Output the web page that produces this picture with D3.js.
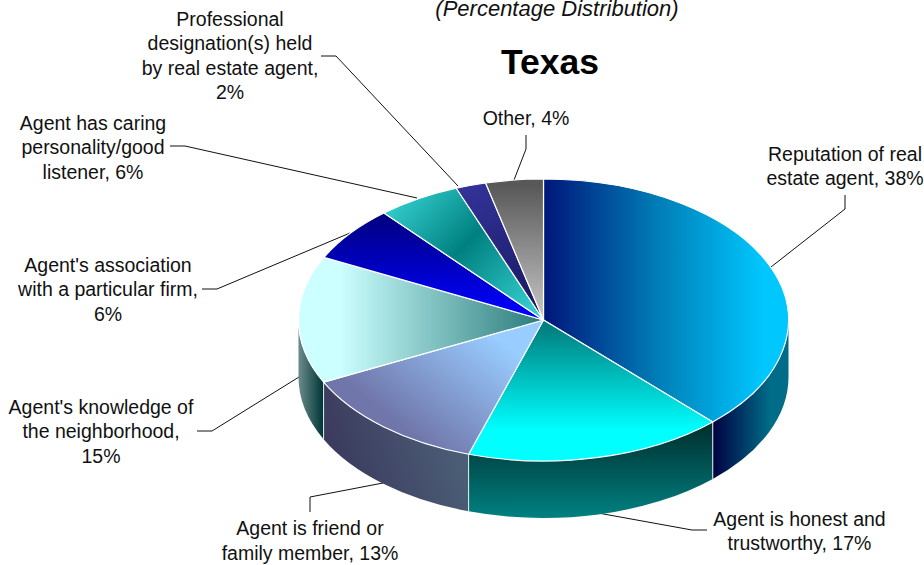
<!DOCTYPE html>
<html>
<head>
<meta charset="utf-8">
<script src="https://d3js.org/d3.v7.min.js"></script>
<style>
  html, body { margin: 0; padding: 0; background: #fff; }
  svg { display: block; }
  text { font-family: "Liberation Sans", Arial, sans-serif; fill: #111; }
</style>
</head>
<body>
<script>
// slices clockwise from 12 o'clock
var categories = ["Reputation of real estate agent", "Agent is honest and trustworthy", "Agent is friend or family member", "Agent's knowledge of the neighborhood", "Agent's association with a particular firm", "Agent has caring personality/good listener", "Professional designation(s) held by real estate agent", "Other"];
var values = [37.9, 17.1, 12.8, 14.6, 6.4, 5.5, 2.0, 3.8];
var title = "Texas";
var subtitle = "(Percentage Distribution)";

var width = 924, height = 565;
var cx = 543.5, cy = 320, rx = 245, ry = 141, depth = 57;

var svg = d3.select("body").append("svg")
  .attr("width", width)
  .attr("height", height);

var defs = svg.append("defs");

// gradients are in page space, one for each top and each visible wall
var topFills = [
  {x1: 548, y1: 0, x2: 765, y2: 0, stops: [[0, "#001a7c"], [0.5, "#007cb6"], [1, "#00c8ff"]]},
  {x1: 0, y1: 328, x2: 0, y2: 430, stops: [[0, "#008080"], [1, "#00ffff"]]},
  {x1: 505, y1: 345, x2: 425, y2: 445, stops: [[0, "#99ccff"], [1, "#7076aa"]]},
  {x1: 340, y1: 0, x2: 543, y2: 0, stops: [[0, "#ccffff"], [1, "#2a7a7a"]]},
  {x1: 0, y1: 215, x2: 0, y2: 315, stops: [[0, "#000080"], [1, "#0000ff"]]},
  {x1: 400, y1: 195, x2: 525, y2: 315, stops: [[0, "#33cccc"], [0.47, "#008080"], [1, "#33cccc"]]},
  {x1: 465, y1: 185, x2: 530, y2: 305, stops: [[0, "#333399"], [1, "#1a1a66"]]},
  {x1: 0, y1: 185, x2: 0, y2: 320, stops: [[0, "#585858"], [1, "#c8c8c8"]]}
];
var wallFills = [
  {x1: 712, y1: 0, x2: 770, y2: 0, stops: [[0, "#000040"], [1, "#006c88"]]},
  {x1: 0, y1: 425, x2: 0, y2: 517, stops: [[0, "#002f2f"], [1, "#008080"]]},
  {x1: 345, y1: 490, x2: 468, y2: 450, stops: [[0, "#3b3b5e"], [1, "#4d6078"]]},
  {x1: 299, y1: 0, x2: 323, y2: 0, stops: [[0, "#6a8a8a"], [1, "#003636"]]}
];

function addGradient(id, g) {
  var lg = defs.append("linearGradient")
    .attr("id", id)
    .attr("gradientUnits", "userSpaceOnUse")
    .attr("x1", g.x1).attr("y1", g.y1)
    .attr("x2", g.x2).attr("y2", g.y2);
  g.stops.forEach(function (s) {
    lg.append("stop").attr("offset", s[0]).attr("stop-color", s[1]);
  });
}
topFills.forEach(function (g, i) { addGradient("top" + i, g); });
wallFills.forEach(function (g, i) { addGradient("wall" + i, g); });

var pie = d3.pie().sort(null).value(function (d) { return d; });
var arcs = pie(values);

// angle a is clockwise from the top, dy moves the point down to the lower rim
function px(a) { return cx + rx * Math.sin(a); }
function py(a, dy) { return cy - ry * Math.cos(a) + (dy || 0); }

function topPath(d) {
  var large = d.endAngle - d.startAngle > Math.PI ? 1 : 0;
  return "M" + cx + "," + cy +
    "L" + px(d.startAngle) + "," + py(d.startAngle) +
    "A" + rx + "," + ry + " 0 " + large + " 1 " + px(d.endAngle) + "," + py(d.endAngle) + "Z";
}

function wallPath(a0, a1) {
  return "M" + px(a0) + "," + py(a0) +
    "A" + rx + "," + ry + " 0 0 1 " + px(a1) + "," + py(a1) +
    "L" + px(a1) + "," + py(a1, depth) +
    "A" + rx + "," + ry + " 0 0 0 " + px(a0) + "," + py(a0, depth) + "Z";
}

// leaders go under the pie so that their ends tuck in at the rim
var leaders = [
  [[771, 267], [845, 209], [845, 195]],
  [[598, 513], [692, 530], [707, 530]],
  [[383, 483], [310, 497], [310, 512]],
  [[299, 377], [212, 431], [197, 431]],
  [[350, 233], [217, 289], [202, 289]],
  [[417, 198], [185, 146], [170, 146]],
  [[458, 186], [336, 56], [321, 56]],
  [[514, 180], [526, 149], [526, 135]]
];
var line = d3.line();
svg.append("g").selectAll("path")
  .data(leaders)
  .join("path")
  .attr("d", line)
  .attr("fill", "none")
  .attr("stroke", "#111")
  .attr("stroke-width", 1);

// front walls, only the part of a slice between 90 and 270 degrees shows
var walls = svg.append("g");
var wallIndex = 0;
arcs.forEach(function (d) {
  var a0 = Math.max(d.startAngle, Math.PI / 2);
  var a1 = Math.min(d.endAngle, Math.PI * 1.5);
  if (a1 <= a0) return;
  walls.append("path")
    .attr("d", wallPath(a0, a1))
    .attr("fill", "url(#wall" + wallIndex + ")");
  wallIndex++;
  // white seam down the wall at the start of the slice, none on the outer silhouette
  if (d.startAngle > Math.PI / 2) {
    walls.append("line")
      .attr("x1", px(d.startAngle)).attr("y1", py(d.startAngle))
      .attr("x2", px(d.startAngle)).attr("y2", py(d.startAngle, depth))
      .attr("stroke", "#e8eeee")
      .attr("stroke-width", 1);
  }
});

svg.append("g").selectAll("path")
  .data(arcs)
  .join("path")
  .attr("d", topPath)
  .attr("fill", function (d, i) { return "url(#top" + i + ")"; })
  .attr("stroke", "#fff")
  .attr("stroke-width", 1.2)
  .attr("stroke-linejoin", "round");

// slice labels, wrapped the way the chart wraps them
var labelLines = [
  ["Reputation of real", "estate agent, "],
  ["Agent is honest and", "trustworthy, "],
  ["Agent is friend or", "family member, "],
  ["Agent's knowledge of", "the neighborhood,", ""],
  ["Agent's association", "with a particular firm,", ""],
  ["Agent has caring", "personality/good", "listener, "],
  ["Professional", "designation(s) held", "by real estate agent,", ""],
  ["Other, "]
];
var labelPos = [
  {x: 845, y: 160.5, step: 24},
  {x: 799.5, y: 525.5, step: 24},
  {x: 310, y: 534.5, step: 25},
  {x: 101, y: 413.5, step: 24.5},
  {x: 108, y: 271.5, step: 24.5},
  {x: 93, y: 129.5, step: 24.5},
  {x: 230, y: 25.5, step: 24.6},
  {x: 526, y: 124.5, step: 24}
];

var labels = svg.append("g")
  .attr("font-size", 19.5)
  .attr("text-anchor", "middle");

labelLines.forEach(function (rows, i) {
  var t = labels.append("text")
    .attr("x", labelPos[i].x)
    .attr("y", labelPos[i].y);
  rows.forEach(function (r, j) {
    var last = j === rows.length - 1;
    t.append("tspan")
      .attr("x", labelPos[i].x)
      .attr("y", labelPos[i].y + j * labelPos[i].step)
      .text(last ? r + Math.round(values[i]) + "%" : r);
  });
});

svg.append("text")
  .attr("x", 557).attr("y", 16)
  .attr("text-anchor", "middle")
  .attr("font-size", 22)
  .attr("font-style", "italic")
  .text(subtitle);

svg.append("text")
  .attr("x", 550).attr("y", 73.5)
  .attr("text-anchor", "middle")
  .attr("font-size", 35.5)
  .attr("font-weight", "bold")
  .style("fill", "#000")
  .text(title);
</script>
</body>
</html>
